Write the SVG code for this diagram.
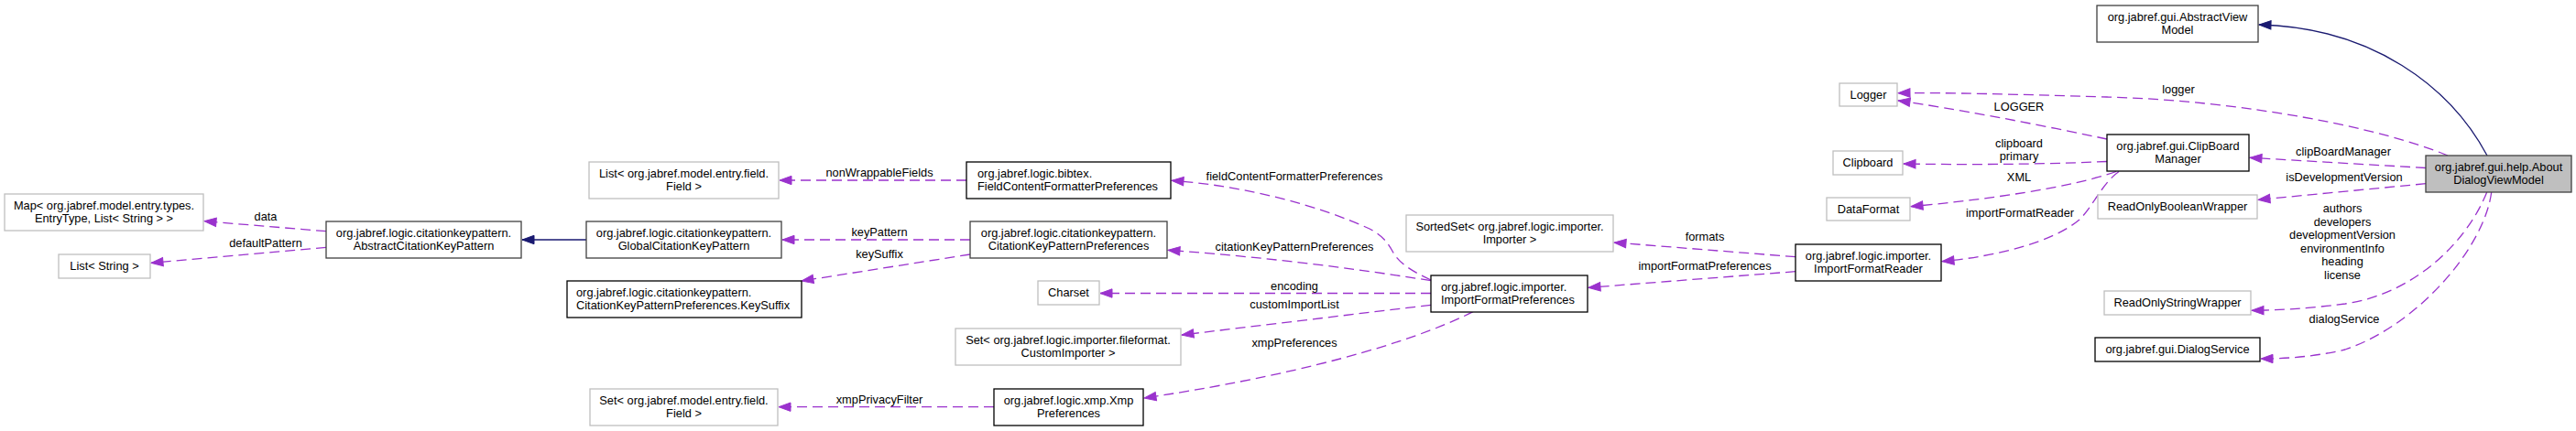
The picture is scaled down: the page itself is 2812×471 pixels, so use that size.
<svg xmlns="http://www.w3.org/2000/svg" width="2812" height="471" viewBox="0 0 2812 471">
<style>
text{font-family:"Liberation Sans",Arial,Helvetica,sans-serif;font-size:12.8px;fill:#000}
.c{text-anchor:middle}
.l{text-anchor:start}
.n rect{fill:#fff;stroke:#000;stroke-width:1.3}
.n.g rect{stroke:#bfbfbf}
.n.d rect{stroke:#404040}
.n.m rect{fill:#bfbfbf;stroke:#404040}
.e{fill:none;stroke:#9a32cd;stroke-width:1.3;stroke-dasharray:11,6;marker-end:url(#ap)}
.i{fill:none;stroke:#191970;stroke-width:1.3;marker-end:url(#ab)}
</style>
<defs>
<marker id="ap" markerUnits="userSpaceOnUse" markerWidth="15" markerHeight="11" refX="13" refY="4.7" orient="auto" overflow="visible"><path d="M0,0 L13,4.7 L0,9.4 z" fill="#9a32cd" stroke="#9a32cd" stroke-width="1"/></marker>
<marker id="ab" markerUnits="userSpaceOnUse" markerWidth="15" markerHeight="11" refX="13" refY="4.7" orient="auto" overflow="visible"><path d="M0,0 L13,4.7 L0,9.4 z" fill="#191970" stroke="#191970" stroke-width="1"/></marker>
</defs>

<g id="connectors">
<path class="i" d="M2715,170 C2675,95 2590,30 2466,27"/>
<path class="i" d="M640,262 L570,262"/>
<path class="e" d="M2672,170 C2600,140 2450,110 2300,106 C2200,103 2120,101 2072,101.7"/>
<path class="e" d="M2300,152 C2220,135 2130,118 2072,110"/>
<path class="e" d="M2300,176.5 C2220,180 2140,180 2078,179"/>
<path class="e" d="M2310,187.5 C2260,205 2170,218 2086,225.7"/>
<path class="e" d="M2313,187.5 C2295,200 2285,225 2270,240 C2240,265 2180,280 2120,285.7"/>
<path class="e" d="M2648,183.5 L2456,172.3"/>
<path class="e" d="M2648,200.7 L2465,218.3"/>
<path class="e" d="M2714.7,210 C2695,260 2640,320 2560,332 C2520,337 2490,339 2458,339.3"/>
<path class="e" d="M2719.7,210 C2712,270 2640,355 2560,382 C2530,389 2500,392 2468,392"/>
<path class="e" d="M1960,280.7 L1762,265"/>
<path class="e" d="M1960,296.7 L1734,314.3"/>
<path class="e" d="M1562,306 C1545,298 1530,290 1522,278 C1515,265 1510,258 1495,250 C1440,225 1360,203 1279,197.3"/>
<path class="e" d="M1562,306.7 C1470,292 1380,281 1275,273.3"/>
<path class="e" d="M1562,320.5 L1201,320.5"/>
<path class="e" d="M1562,333.3 L1290,366"/>
<path class="e" d="M1608,340.7 C1560,365 1450,405 1249,435"/>
<path class="e" d="M1055,197 L851,197"/>
<path class="e" d="M1059,262 L854,262"/>
<path class="e" d="M1059,278 L875,307"/>
<path class="e" d="M1085,444.7 L850,444.7"/>
<path class="e" d="M356,252.7 L223,241.7"/>
<path class="e" d="M356,270.3 L165,287.3"/>
</g>

<g id="edge-labels">
<text class="c" x="2378" y="102.3">logger</text>
<text class="c" x="2204" y="121">LOGGER</text>
<text class="c" x="2204" y="161">clipboard</text>
<text class="c" x="2204" y="174.7">primary</text>
<text class="c" x="2204" y="198">XML</text>
<text class="c" x="2205" y="236.5">importFormatReader</text>
<text class="c" x="2558" y="170">clipBoardManager</text>
<text class="c" x="2559" y="198.3">isDevelopmentVersion</text>
<text class="c" x="2557" y="232">authors</text>
<text class="c" x="2557" y="246.5">developers</text>
<text class="c" x="2557" y="261">developmentVersion</text>
<text class="c" x="2557" y="275.5">environmentInfo</text>
<text class="c" x="2557" y="290">heading</text>
<text class="c" x="2557" y="304.5">license</text>
<text class="c" x="2559" y="352.7">dialogService</text>
<text class="c" x="1861" y="263">formats</text>
<text class="c" x="1861" y="294.5">importFormatPreferences</text>
<text class="c" x="1413" y="197.3">fieldContentFormatterPreferences</text>
<text class="c" x="1413" y="274">citationKeyPatternPreferences</text>
<text class="c" x="1413" y="317.3">encoding</text>
<text class="c" x="1413" y="336.7">customImportList</text>
<text class="c" x="1413" y="378.7">xmpPreferences</text>
<text class="c" x="960" y="193.3">nonWrappableFields</text>
<text class="c" x="960" y="258.3">keyPattern</text>
<text class="c" x="960" y="282">keySuffix</text>
<text class="c" x="960" y="441">xmpPrivacyFilter</text>
<text class="c" x="290" y="240.5">data</text>
<text class="c" x="290" y="270">defaultPattern</text>
</g>

<g id="node-about" class="n m"><rect x="2648" y="170" width="159" height="40"/><text class="c" x="2727.5" y="186.5">org.jabref.gui.help.About</text><text class="c" x="2727.5" y="201.2">DialogViewModel</text></g>
<g id="node-abstractviewmodel" class="n d"><rect x="2289" y="6" width="176" height="40"/><text class="c" x="2377" y="22.5">org.jabref.gui.AbstractView</text><text class="c" x="2377" y="37.2">Model</text></g>
<g id="node-logger" class="n g"><rect x="2008" y="91" width="63" height="25"/><text class="c" x="2039.5" y="107.8">Logger</text></g>
<g id="node-clipboardmanager" class="n"><rect x="2300" y="147" width="155" height="40"/><text class="c" x="2377.5" y="163.5">org.jabref.gui.ClipBoard</text><text class="c" x="2377.5" y="178.2">Manager</text></g>
<g id="node-clipboard" class="n g"><rect x="2001" y="165" width="76" height="26"/><text class="c" x="2039" y="181.8">Clipboard</text></g>
<g id="node-dataformat" class="n g"><rect x="1994" y="216" width="91" height="25"/><text class="c" x="2039.5" y="232.8">DataFormat</text></g>
<g id="node-importformatreader" class="n"><rect x="1960" y="267" width="159" height="40"/><text class="c" x="2039.5" y="283.5">org.jabref.logic.importer.</text><text class="c" x="2039.5" y="298.2">ImportFormatReader</text></g>
<g id="node-robw" class="n g"><rect x="2290" y="213" width="174" height="26"/><text class="c" x="2377" y="229.8">ReadOnlyBooleanWrapper</text></g>
<g id="node-rosw" class="n g"><rect x="2297" y="318" width="160" height="26"/><text class="c" x="2377" y="334.8">ReadOnlyStringWrapper</text></g>
<g id="node-dialogservice" class="n"><rect x="2287" y="369" width="180" height="26"/><text class="c" x="2377" y="385.8">org.jabref.gui.DialogService</text></g>
<g id="node-sortedset" class="n g"><rect x="1535" y="235" width="226" height="40"/><text class="c" x="1648" y="251.5">SortedSet&lt; org.jabref.logic.importer.</text><text class="c" x="1648" y="266.2">Importer &gt;</text></g>
<g id="node-importformatpreferences" class="n"><rect x="1562" y="301" width="171" height="40"/><text class="l" x="1573" y="317.5">org.jabref.logic.importer.</text><text class="l" x="1573" y="332.2">ImportFormatPreferences</text></g>
<g id="node-fcfp" class="n"><rect x="1055" y="177" width="223" height="40"/><text class="l" x="1067" y="193.5">org.jabref.logic.bibtex.</text><text class="l" x="1067" y="208.2">FieldContentFormatterPreferences</text></g>
<g id="node-ckpp" class="n d"><rect x="1059" y="242" width="215" height="40"/><text class="c" x="1166.5" y="258.5">org.jabref.logic.citationkeypattern.</text><text class="c" x="1166.5" y="273.2">CitationKeyPatternPreferences</text></g>
<g id="node-charset" class="n g"><rect x="1133" y="307" width="67" height="26"/><text class="c" x="1166.5" y="323.8">Charset</text></g>
<g id="node-setcustomimporter" class="n g"><rect x="1043" y="359" width="246" height="40"/><text class="c" x="1166" y="375.5">Set&lt; org.jabref.logic.importer.fileformat.</text><text class="c" x="1166" y="390.2">CustomImporter &gt;</text></g>
<g id="node-xmppreferences" class="n"><rect x="1085" y="425" width="163" height="40"/><text class="c" x="1166.5" y="441.5">org.jabref.logic.xmp.Xmp</text><text class="c" x="1166.5" y="456.2">Preferences</text></g>
<g id="node-listfield" class="n g"><rect x="643" y="177" width="207" height="40"/><text class="c" x="746.5" y="193.5">List&lt; org.jabref.model.entry.field.</text><text class="c" x="746.5" y="208.2">Field &gt;</text></g>
<g id="node-globalckp" class="n d"><rect x="640" y="242" width="213" height="40"/><text class="c" x="746.5" y="258.5">org.jabref.logic.citationkeypattern.</text><text class="c" x="746.5" y="273.2">GlobalCitationKeyPattern</text></g>
<g id="node-keysuffix" class="n"><rect x="619" y="307" width="256" height="40"/><text class="l" x="629" y="323.5">org.jabref.logic.citationkeypattern.</text><text class="l" x="629" y="338.2">CitationKeyPatternPreferences.KeySuffix</text></g>
<g id="node-setfield" class="n g"><rect x="644" y="425" width="205" height="40"/><text class="c" x="746.5" y="441.5">Set&lt; org.jabref.model.entry.field.</text><text class="c" x="746.5" y="456.2">Field &gt;</text></g>
<g id="node-abstractckp" class="n d"><rect x="356" y="242" width="213" height="40"/><text class="c" x="462.5" y="258.5">org.jabref.logic.citationkeypattern.</text><text class="c" x="462.5" y="273.2">AbstractCitationKeyPattern</text></g>
<g id="node-map" class="n g"><rect x="5" y="212" width="217" height="40"/><text class="c" x="113.5" y="228.5">Map&lt; org.jabref.model.entry.types.</text><text class="c" x="113.5" y="243.2">EntryType, List&lt; String &gt; &gt;</text></g>
<g id="node-liststring" class="n g"><rect x="64" y="278" width="100" height="26"/><text class="c" x="114" y="294.8">List&lt; String &gt;</text></g>
</svg>
